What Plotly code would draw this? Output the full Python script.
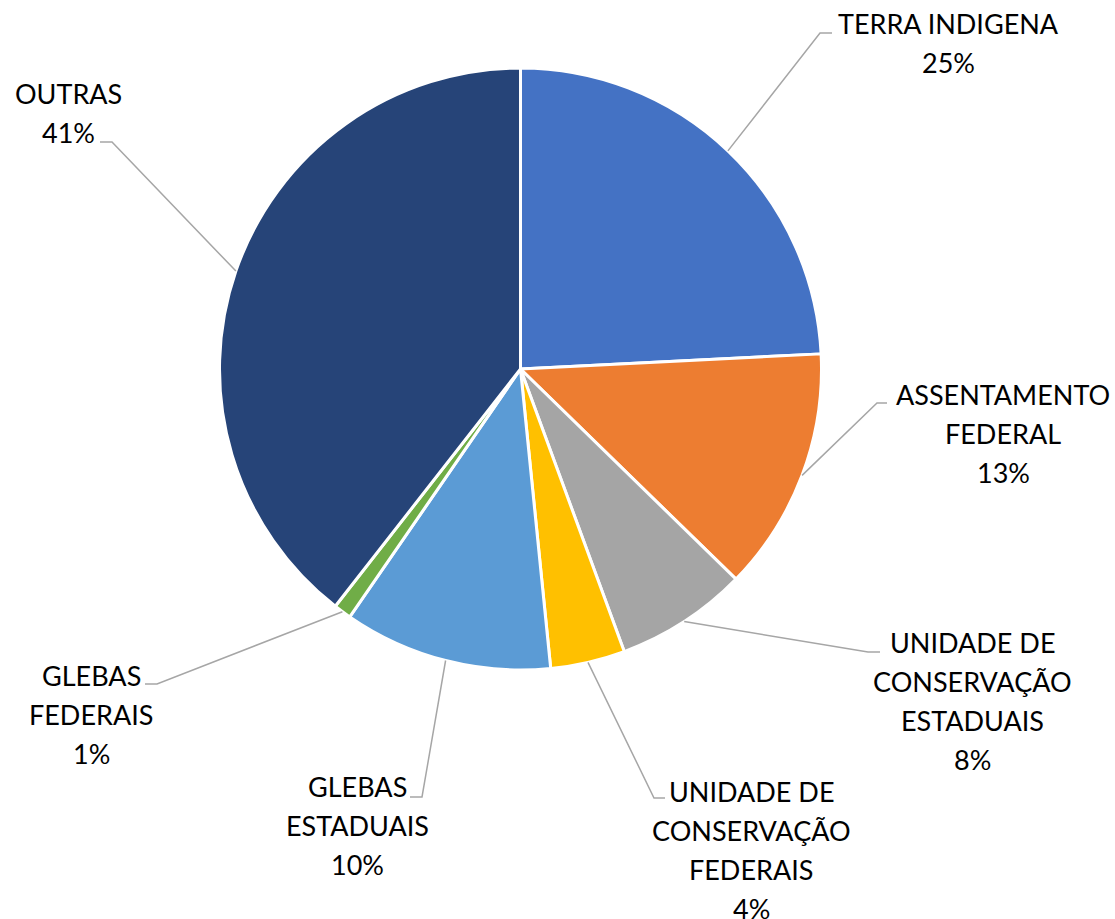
import math
import plotly.graph_objects as go

# ---- data ----
categories = ["TERRA INDIGENA", "ASSENTAMENTO FEDERAL", "UNIDADE DE CONSERVAÇÃO ESTADUAIS",
              "UNIDADE DE CONSERVAÇÃO FEDERAIS", "GLEBAS ESTADUAIS", "GLEBAS FEDERAIS", "OUTRAS"]
values = [24.2, 13.1, 7.1, 4.0, 11.2, 0.95, 39.45]
pct_labels = ["25%", "13%", "8%", "4%", "10%", "1%", "41%"]
label_lines = [["TERRA INDIGENA"], ["ASSENTAMENTO", "FEDERAL"],
               ["UNIDADE DE", "CONSERVAÇÃO", "ESTADUAIS"],
               ["UNIDADE DE", "CONSERVAÇÃO", "FEDERAIS"],
               ["GLEBAS", "ESTADUAIS"], ["GLEBAS", "FEDERAIS"], ["OUTRAS"]]
colors = ["#4472C4", "#ED7D31", "#A5A5A5", "#FFC000", "#5B9BD5", "#70AD47", "#264478"]

# ---- layout (pixels) ----
W, H = 1115, 919
CX, CY, R = 520.5, 369.0, 301.0
# label block: (center x, y of first line), elbow point, end of horizontal tick
label_pos = [(948, 23), (1003, 394), (972, 642), (751, 791), (357, 786), (91, 675), (68, 93)]
elbows = [((820, 33), (832, 33)), ((877, 403), (887, 403)), ((868, 652), (880, 652)),
          ((654, 798), (665, 798)), ((422, 797), (410, 797)), ((157, 684), (145, 684)),
          ((112, 142), (100, 142))]
LINE_GAP = 39
FONT = "Lato"
FSIZE = 27

fig = go.Figure()
fig.add_trace(go.Pie(
    labels=categories, values=values, sort=False, direction="clockwise", rotation=0,
    marker=dict(colors=colors, line=dict(color="white", width=3)),
    textinfo="none", hoverinfo="label+percent", showlegend=False,
    domain=dict(x=[(CX - R) / W, (CX + R) / W], y=[(H - CY - R) / H, (H - CY + R) / H]),
))

# hidden pixel axis for leader lines and labels
fig.add_trace(go.Scatter(x=[0, W], y=[0, H], mode="markers", marker=dict(opacity=0),
                         hoverinfo="skip", showlegend=False))

total = sum(values)
cum = 0.0
shapes = []
annotations = []
for i, v in enumerate(values):
    mid = (cum + v / 2) / total * 2 * math.pi
    cum += v
    sx = CX + R * math.sin(mid)
    sy = CY - R * math.cos(mid)
    (ex, ey), (tx, ty) = elbows[i]
    shapes.append(dict(type="path", xref="x", yref="y",
                       path=f"M {sx:.1f},{sy:.1f} L {ex},{ey} L {tx},{ty}",
                       line=dict(color="#A6A6A6", width=1.5)))
    lx, ly = label_pos[i]
    lines = label_lines[i] + [pct_labels[i]]
    for k, t in enumerate(lines):
        annotations.append(dict(x=lx, y=ly + k * LINE_GAP, xref="x", yref="y", text=t,
                                showarrow=False, xanchor="center", yanchor="middle",
                                font=dict(family=FONT, size=FSIZE, color="#000000")))

fig.update_layout(
    width=W, height=H, margin=dict(l=0, r=0, t=0, b=0),
    paper_bgcolor="white", plot_bgcolor="rgba(0,0,0,0)",
    xaxis=dict(range=[0, W], visible=False, fixedrange=True),
    yaxis=dict(range=[H, 0], visible=False, fixedrange=True),
    shapes=shapes, annotations=annotations,
)
fig.write_html("out.html", config={"displayModeBar": False},
               post_script="document.body.style.margin='0';document.body.style.overflow='hidden';")
